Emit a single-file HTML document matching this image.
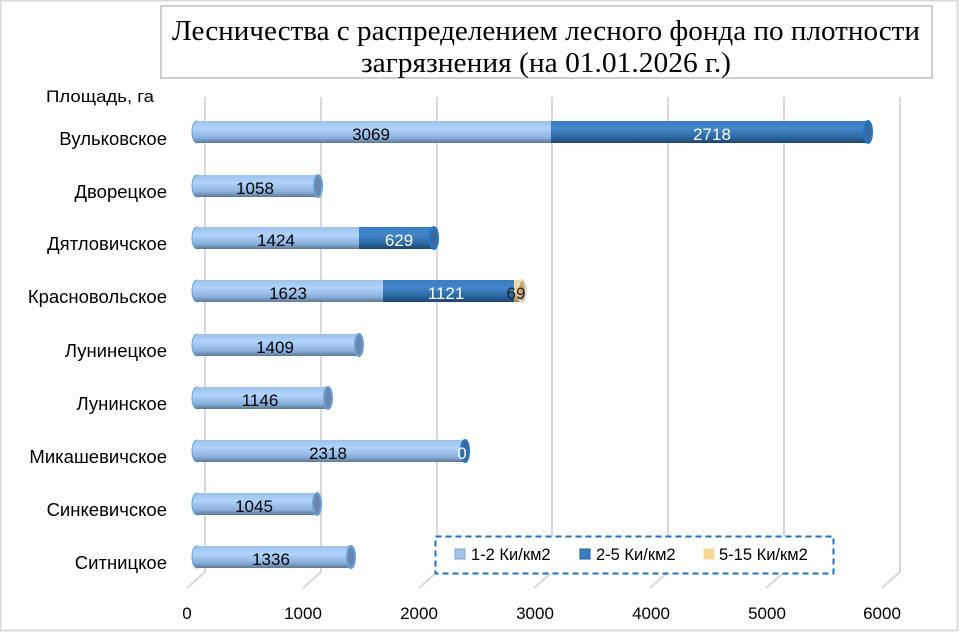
<!DOCTYPE html>
<html><head><meta charset="utf-8"><style>
body{margin:0;background:#fff}
svg{display:block}
text{font-family:"Liberation Sans",sans-serif}
</style></head><body>
<svg width="959" height="632" viewBox="0 0 959 632" xmlns="http://www.w3.org/2000/svg">
<defs>
<linearGradient id="g1" x1="0" y1="0" x2="0" y2="1">
<stop offset="0" stop-color="#9cc3ec"/><stop offset="0.35" stop-color="#b0d4fb"/><stop offset="0.75" stop-color="#8cb2de"/><stop offset="1" stop-color="#5c7898"/></linearGradient>
<linearGradient id="g2" x1="0" y1="0" x2="0" y2="1">
<stop offset="0" stop-color="#3a7cc0"/><stop offset="0.35" stop-color="#4286cc"/><stop offset="0.75" stop-color="#2c679f"/><stop offset="1" stop-color="#1b4470"/></linearGradient>
<linearGradient id="g3" x1="0" y1="0" x2="0" y2="1">
<stop offset="0" stop-color="#f5d590"/><stop offset="0.5" stop-color="#f8dc9c"/><stop offset="1" stop-color="#a88850"/></linearGradient>
</defs>
<rect x="0.5" y="0.5" width="957" height="630" fill="#fff" stroke="#d9d9d9" stroke-width="2"/>
<rect x="161" y="6" width="771" height="72" fill="#fff" stroke="#bfbfbf" stroke-width="1.5"/>
<text x="546" y="40" font-size="28" text-anchor="middle" textLength="748" lengthAdjust="spacingAndGlyphs" style="font-family:'Liberation Serif',serif">Лесничества с распределением лесного фонда по плотности</text>
<text x="546" y="72" font-size="28" text-anchor="middle" textLength="370" lengthAdjust="spacingAndGlyphs" style="font-family:'Liberation Serif',serif">загрязнения  (на 01.01.2026  г.)</text>
<text x="46" y="102" font-size="17" textLength="108" lengthAdjust="spacingAndGlyphs">Площадь, га</text>
<g stroke="#d9d9d9" stroke-width="2" fill="none">
<path d="M205 97V572L187 588"/><path d="M321 97V572L303 588"/><path d="M437 97V572L419 588"/><path d="M552 97V572L534 588"/><path d="M668 97V572L650 588"/><path d="M784 97V572L766 588"/><path d="M900 97V572L882 588"/>
</g>
<g font-size="17" text-anchor="middle">
<text x="187" y="619">0</text><text x="303" y="619">1000</text><text x="419" y="619">2000</text><text x="535" y="619">3000</text><text x="651" y="619">4000</text><text x="767" y="619">5000</text><text x="882" y="619">6000</text>
</g>
<g font-size="18.5" text-anchor="end">
<text x="167" y="145">Вульковское</text>
<text x="167" y="198">Дворецкое</text>
<text x="167" y="250">Дятловичское</text>
<text x="167" y="303">Красновольское</text>
<text x="167" y="357">Лунинецкое</text>
<text x="167" y="410">Лунинское</text>
<text x="167" y="463">Микашевичское</text>
<text x="167" y="516">Синкевичское</text>
<text x="167" y="569">Ситницкое</text>
</g>
<g stroke-width="1">
<ellipse cx="197" cy="132" rx="5" ry="11" fill="url(#g1)" stroke="#6a9fd8"/>
<rect x="197" y="121" width="354" height="22" fill="url(#g1)"/>
<rect x="551" y="121" width="317" height="22" fill="url(#g2)"/>
<ellipse cx="868" cy="132" rx="4" ry="11" fill="#3c6a98" stroke="#1f78d0" stroke-width="2"/>

<ellipse cx="197" cy="186" rx="5" ry="11" fill="url(#g1)" stroke="#6a9fd8"/>
<rect x="197" y="175" width="120" height="22" fill="url(#g1)"/>
<ellipse cx="318" cy="186" rx="4" ry="11" fill="#6a86a8" stroke="#6a9fd8" stroke-width="2"/>

<ellipse cx="197" cy="238" rx="5" ry="11" fill="url(#g1)" stroke="#6a9fd8"/>
<rect x="197" y="227" width="162" height="22" fill="url(#g1)"/>
<rect x="359" y="227" width="74" height="22" fill="url(#g2)"/>
<ellipse cx="434" cy="238" rx="4" ry="11" fill="#3c6a98" stroke="#1f78d0" stroke-width="2"/>

<ellipse cx="197" cy="291" rx="5" ry="11" fill="url(#g1)" stroke="#6a9fd8"/>
<rect x="197" y="280" width="186" height="22" fill="url(#g1)"/>
<rect x="383" y="280" width="131" height="22" fill="url(#g2)"/>
<rect x="514" y="280" width="8" height="22" fill="url(#g3)"/>
<ellipse cx="522" cy="291" rx="4" ry="11" fill="#c8a868" stroke="#ddd" stroke-width="2"/>

<ellipse cx="197" cy="345" rx="5" ry="11" fill="url(#g1)" stroke="#6a9fd8"/>
<rect x="197" y="334" width="161" height="22" fill="url(#g1)"/>
<ellipse cx="359" cy="345" rx="4" ry="11" fill="#6a86a8" stroke="#6a9fd8" stroke-width="2"/>

<ellipse cx="197" cy="398" rx="5" ry="11" fill="url(#g1)" stroke="#6a9fd8"/>
<rect x="197" y="387" width="130" height="22" fill="url(#g1)"/>
<ellipse cx="328" cy="398" rx="4" ry="11" fill="#6a86a8" stroke="#6a9fd8" stroke-width="2"/>

<ellipse cx="197" cy="451" rx="5" ry="11" fill="url(#g1)" stroke="#6a9fd8"/>
<rect x="197" y="440" width="267" height="22" fill="url(#g1)"/>
<ellipse cx="465" cy="451" rx="4" ry="11" fill="#3c6a98" stroke="#1f78d0" stroke-width="2"/>

<ellipse cx="197" cy="504" rx="5" ry="11" fill="url(#g1)" stroke="#6a9fd8"/>
<rect x="197" y="493" width="119" height="22" fill="url(#g1)"/>
<ellipse cx="317" cy="504" rx="4" ry="11" fill="#6a86a8" stroke="#6a9fd8" stroke-width="2"/>

<ellipse cx="197" cy="557" rx="5" ry="11" fill="url(#g1)" stroke="#6a9fd8"/>
<rect x="197" y="546" width="153" height="22" fill="url(#g1)"/>
<ellipse cx="351" cy="557" rx="4" ry="11" fill="#6a86a8" stroke="#6a9fd8" stroke-width="2"/>
</g>
<g font-size="17" text-anchor="middle" fill="#000">
<text x="371" y="140">3069</text><text x="712" y="140" fill="#fff">2718</text>
<text x="255" y="194">1058</text>
<text x="276" y="246">1424</text><text x="399" y="246" fill="#fff">629</text>
<text x="288" y="299">1623</text><text x="446" y="299" fill="#fff">1121</text><text x="516" y="299" fill="#222">69</text>
<text x="275" y="353">1409</text>
<text x="260" y="406">1146</text>
<text x="328" y="459">2318</text><text x="462" y="459" fill="#fff">0</text>
<text x="254" y="512">1045</text>
<text x="271" y="565">1336</text>
</g>
<rect x="435.5" y="536.5" width="398" height="37" fill="#fff" stroke="#1f72c0" stroke-width="2" stroke-dasharray="6,4"/>
<rect x="455" y="549" width="10" height="10" fill="#a4c2e8" stroke="#7fa6d6"/>
<text x="471" y="560" font-size="16.5">1-2 Ки/км2</text>
<rect x="580" y="549" width="10" height="10" fill="#3a7cc0" stroke="#1f5f9f"/>
<text x="596" y="560" font-size="16.5">2-5 Ки/км2</text>
<rect x="704" y="549" width="10" height="10" fill="#fbd98f" stroke="#f0d8a8"/>
<text x="719" y="560" font-size="16.5">5-15 Ки/км2</text>
</svg>
</body></html>
